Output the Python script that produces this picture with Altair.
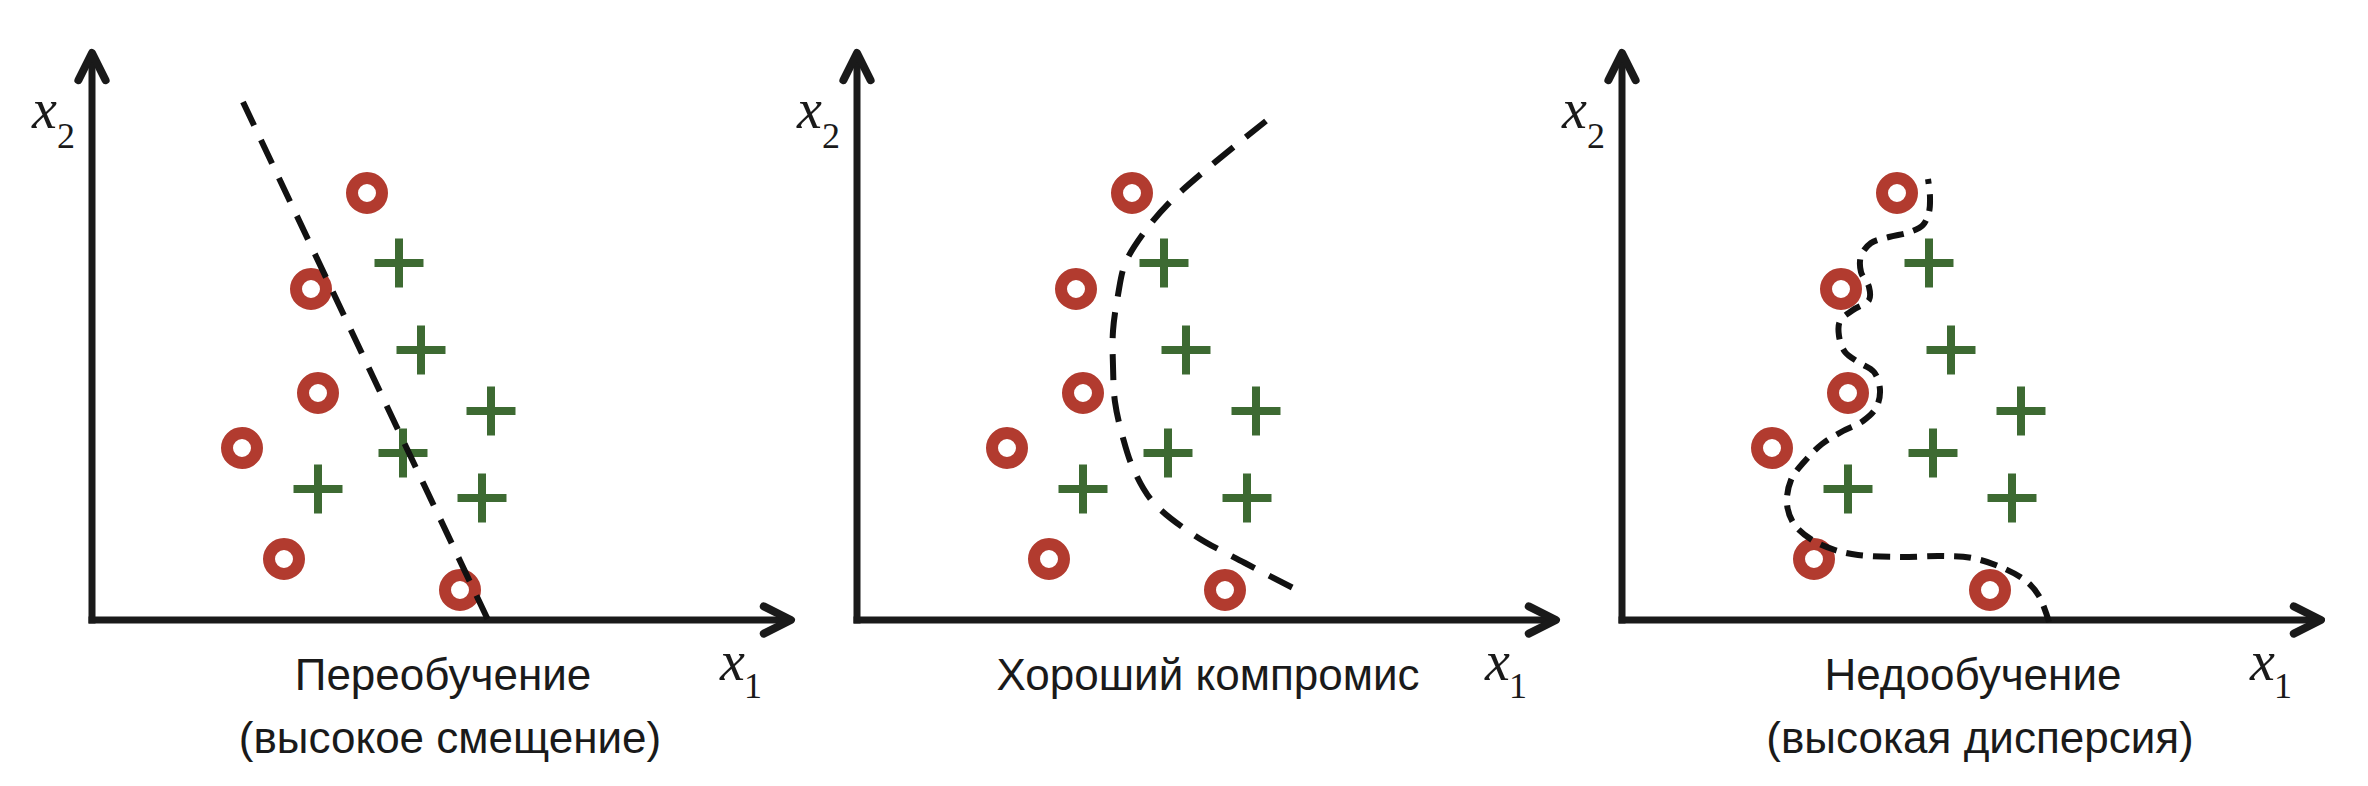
import altair as alt
import pandas as pd

# ---------------- data (units = pixels measured from the axis origin) ----------------
circle_x = [275, 219, 226, 150, 192, 368]
circle_y = [427, 331, 227, 172, 61, 30]
plus_x = [307, 329, 399, 311, 226, 390]
plus_y = [357, 270, 209, 167, 131, 122]

titles = [
    ["Переобучение", "(высокое смещение)"],
    ["Хороший компромис"],
    ["Недообучение", "(высокая дисперсия)"],
]

# decision boundaries
bound1_x = [151, 396]
bound1_y = [518, 0]
bound2_x = [409, 317, 286, 268, 261, 256, 256, 258, 266, 276, 296, 337, 388, 442]
bound2_y = [499, 422, 386, 356, 325, 289, 254, 218, 182, 152, 118, 85, 57, 29]
bound3_x = [427, 417, 404, 381, 350, 319, 278, 236, 213, 190, 172, 165, 169, 182, 200, 221,
            241, 254, 258, 252, 236, 223, 217, 218, 231, 247, 247, 239, 239, 249, 267, 288,
            301, 307, 308, 306]
bound3_y = [-2, 24, 39, 52, 62, 64, 63, 65, 70, 80, 96, 116, 140, 158, 176, 189,
            199, 212, 230, 248, 258, 268, 284, 299, 310, 320, 333, 348, 364, 377, 383, 388,
            395, 408, 423, 441]

boundaries = [(bound1_x, bound1_y), (bound2_x, bound2_y), (bound3_x, bound3_y)]
interps = ["linear", "catmull-rom", "catmull-rom"]
dash_styles = [[26, 16], [26, 16], [17, 10]]

# ---------------- layout ----------------
W, H = 765, 770
X_DOMAIN = [-84, W - 84]
Y_DOMAIN = [-158, H - 158]

INK = "#1a1a1a"
RED = "#b23b2f"
GREEN = "#3d6a32"
TITLE_FONT = "Liberation Sans"


def X(field="x"):
    return alt.X(f"{field}:Q", scale=alt.Scale(domain=X_DOMAIN, nice=False, zero=False), axis=None)


def Y(field="y"):
    return alt.Y(f"{field}:Q", scale=alt.Scale(domain=Y_DOMAIN, nice=False, zero=False), axis=None)


ARROW = "M-1.7,-0.85L0,0L-1.7,0.85"
PLUS = "M-1,0L1,0M0,-1L0,1"


def panel(i):
    h_axis = pd.DataFrame({"x": [-3.5], "x2": [696], "y": [0]})
    v_axis = pd.DataFrame({"x": [0], "y": [-3.5], "y2": [562]})
    heads = pd.DataFrame({"x": [699, 0], "y": [0, 567], "a": [0, 270]})

    hrule = alt.Chart(h_axis).mark_rule(strokeWidth=7, color=INK).encode(
        x=X(), x2="x2:Q", y=Y())
    vrule = alt.Chart(v_axis).mark_rule(strokeWidth=7, color=INK).encode(
        x=X(), y=Y(), y2="y2:Q")
    arrow = alt.Chart(heads).mark_point(
        shape=ARROW, filled=False, size=1024, strokeWidth=8, color=INK, opacity=1,
        strokeCap="round", strokeJoin="round",
    ).encode(x=X(), y=Y(), angle=alt.Angle("a:Q", scale=None))

    circles = alt.Chart(pd.DataFrame({"x": circle_x, "y": circle_y})).mark_point(
        shape="circle", filled=False, size=900, strokeWidth=12, color=RED, opacity=1
    ).encode(x=X(), y=Y())
    pluses = alt.Chart(pd.DataFrame({"x": plus_x, "y": plus_y})).mark_point(
        shape=PLUS, filled=False, size=2400, strokeWidth=8, color=GREEN, opacity=1
    ).encode(x=X(), y=Y())

    bx, by = boundaries[i]
    bd = pd.DataFrame({"x": bx, "y": by, "i": list(range(len(bx)))})
    line = alt.Chart(bd).mark_line(
        color="#111111", strokeWidth=6, strokeDash=dash_styles[i], interpolate=interps[i]
    ).encode(x=X(), y=Y(), order="i:Q")

    t = titles[i]
    tdf = pd.DataFrame({"x": [351, 358][: len(t)], "y": [-70, -133][: len(t)], "text": t})
    title = alt.Chart(tdf).mark_text(
        font=TITLE_FONT, fontSize=44, color=INK, align="center", baseline="alphabetic"
    ).encode(x=X(), y=Y(), text="text:N")

    var_df = pd.DataFrame({"x": [-60, 628], "y": [492, -60], "text": ["x", "x"]})
    sub_df = pd.DataFrame({"x": [-35, 652], "y": [472, -78], "text": ["2", "1"]})
    var = alt.Chart(var_df).mark_text(
        font="Liberation Serif", fontStyle="italic", fontSize=56, color=INK,
        align="left", baseline="alphabetic"
    ).encode(x=X(), y=Y(), text="text:N")
    sub = alt.Chart(sub_df).mark_text(
        font="Liberation Serif", fontSize=36, color=INK, align="left", baseline="alphabetic"
    ).encode(x=X(), y=Y(), text="text:N")

    return alt.layer(hrule, vrule, arrow, circles, pluses, line, title, var, sub).properties(
        width=W, height=H)


chart = alt.hconcat(panel(0), panel(1), panel(2), spacing=0, bounds="flush").properties(
    padding=0, background="white"
).configure_view(strokeWidth=0)

chart.save("out.html", embed_options={"renderer": "svg", "actions": False})
